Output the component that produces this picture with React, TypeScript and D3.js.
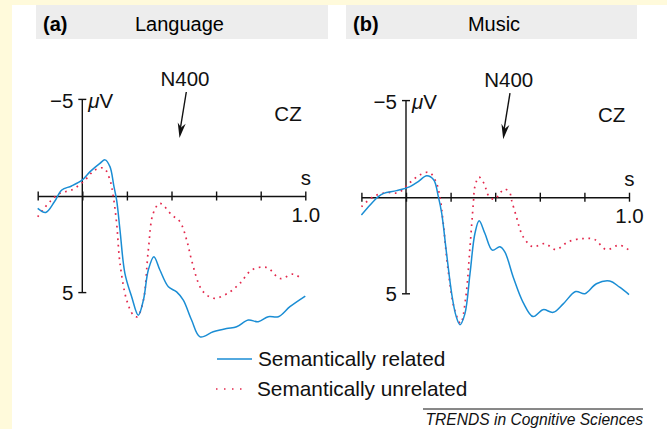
import * as d3 from "d3";
import { useEffect, useRef } from "react";

// ERP traces at electrode CZ, [time (s), amplitude (µV)], negative up
const langRelated: [number, number][] = [
  [-0.2, 0.64], [-0.164, 0.85], [-0.125, 0.3], [-0.092, -0.31], [-0.048, -0.52], [0, -0.83],
  [0.035, -1.26], [0.079, -1.69], [0.102, -1.87], [0.124, -1.52], [0.142, -0.48], [0.154, 0.21],
  [0.169, 1.76], [0.191, 4.0], [0.221, 5.2], [0.251, 6.17], [0.274, 5.39], [0.296, 3.83],
  [0.321, 3.14], [0.348, 3.83], [0.386, 4.7], [0.423, 4.96], [0.453, 5.39], [0.49, 6.42],
  [0.528, 7.29], [0.587, 7.03], [0.647, 6.86], [0.692, 6.77], [0.744, 6.42], [0.789, 6.51],
  [0.834, 6.25], [0.879, 6.25], [0.931, 5.73], [1.0, 5.18],
];
const langUnrelated: [number, number][] = [
  [-0.2, 1.07], [-0.145, 0.29], [-0.1, -0.14], [-0.048, -0.31], [0.005, -0.74], [0.057, -1.35],
  [0.097, -1.44], [0.124, -0.83], [0.139, 0.03], [0.154, 1.42], [0.169, 3.49], [0.199, 5.39],
  [0.229, 6.17], [0.247, 6.25], [0.274, 5.39], [0.296, 2.8], [0.318, 0.9], [0.348, 0.38],
  [0.401, 0.98], [0.438, 1.33], [0.468, 2.28], [0.49, 3.32], [0.528, 4.7], [0.558, 5.13],
  [0.595, 5.3], [0.662, 4.96], [0.707, 4.52], [0.76, 3.83], [0.827, 3.7], [0.887, 4.27],
  [0.946, 4.04], [0.984, 4.3],
];
const musicRelated: [number, number][] = [
  [-0.2, 0.92], [-0.161, 0.4], [-0.124, -0.03], [-0.1, -0.2], [-0.042, -0.34], [0.018, -0.55],
  [0.055, -0.81], [0.093, -1.11], [0.124, -0.9], [0.145, -0.03], [0.16, 0.83], [0.182, 2.92],
  [0.205, 5.0], [0.224, 6.13], [0.242, 6.6], [0.264, 6.04], [0.287, 3.96], [0.309, 1.88],
  [0.328, 1.22], [0.354, 1.88], [0.387, 2.74], [0.421, 2.57], [0.443, 2.83], [0.481, 4.14],
  [0.525, 5.44], [0.57, 6.18], [0.615, 5.82], [0.66, 5.96], [0.705, 5.52], [0.761, 4.88],
  [0.802, 5.0], [0.854, 4.48], [0.913, 4.34], [0.958, 4.66], [1.0, 5.04],
];
const musicUnrelated: [number, number][] = [
  [-0.2, 0.49], [-0.146, -0.03], [-0.087, -0.24], [-0.034, -0.24], [0.018, -0.76], [0.063, -1.16],
  [0.105, -1.28], [0.134, -0.81], [0.152, -0.03], [0.167, 1.35], [0.189, 3.79], [0.219, 5.87],
  [0.245, 6.53], [0.268, 5.18], [0.287, 2.57], [0.302, 0.31], [0.309, -0.55], [0.327, -1.04],
  [0.349, -0.73], [0.373, -0.03], [0.399, 0.1], [0.421, -0.21], [0.443, -0.42], [0.466, -0.21],
  [0.473, 0.14], [0.495, 1.01], [0.518, 1.88], [0.545, 2.36], [0.57, 2.57], [0.622, 2.4],
  [0.672, 2.71], [0.727, 2.31], [0.794, 2.14], [0.846, 2.19], [0.898, 2.71], [0.958, 2.48],
  [1.0, 2.74],
];

const timeTicks = [-0.2, 0, 0.2, 0.4, 0.6, 0.8, 1.0];
const ampTicks = [-5, 5];
const panelLabels = ["(a)", "(b)"];
const panelTitles = ["Language", "Music"];
const legendLabels = ["Semantically related", "Semantically unrelated"];

const BLUE = "#1a8dd4";
const RED = "#e3284c";
const FONT = "'Liberation Sans', Arial, sans-serif";

const width = 667;
const height = 429;

const panels = [
  { related: langRelated, unrelated: langUnrelated, dx: 0, dy: 0 },
  { related: musicRelated, unrelated: musicUnrelated, dx: 323.7, dy: 1.2 },
];

const App = () => {
  const svgRef = useRef<SVGSVGElement | null>(null);

  useEffect(() => {
    const svg = d3.select(svgRef.current);
    svg.selectAll("*").remove();

    // background: yellow frame strips, white page
    svg.append("rect").attr("width", width).attr("height", height).attr("fill", "#fffadb");
    svg.append("rect").attr("x", 12).attr("y", 5).attr("width", width - 12).attr("height", height - 5).attr("fill", "#ffffff");

    // grey title bars
    const bars = [{ x: 36, w: 292 }, { x: 346, w: 291 }];
    bars.forEach((b, i) => {
      svg.append("rect").attr("x", b.x).attr("y", 5).attr("width", b.w).attr("height", 34).attr("fill", "#ededed");
      svg.append("text").attr("x", b.x + 7).attr("y", 31).attr("font-family", FONT)
        .attr("font-size", 20).attr("font-weight", "bold").text(panelLabels[i]);
      svg.append("text").attr("x", i === 0 ? 179.5 : 494).attr("y", 31).attr("font-family", FONT)
        .attr("font-size", 20).attr("text-anchor", "middle").text(panelTitles[i]);
    });

    panels.forEach((p) => {
      const g = svg.append("g").attr("transform", `translate(${p.dx},${p.dy})`);
      const x = d3.scaleLinear().domain([-0.2, 1.0]).range([37.7, 305.3]);
      const y = d3.scaleLinear().domain([-5, 5]).range([99.4, 292.6]);

      // x axis with ticks crossing the line
      const xAxis = d3.axisBottom(x).tickValues(timeTicks).tickFormat(() => "").tickSize(4).tickSizeOuter(0);
      const xg = g.append("g").attr("transform", `translate(0,${y(0)})`).call(xAxis);
      xg.select(".domain").attr("stroke", "#111").attr("stroke-width", 1.4);
      xg.selectAll(".tick line").attr("y1", -4.5).attr("y2", 4.5).attr("stroke", "#111").attr("stroke-width", 1.4);

      // y axis from -5 to 5
      g.append("line").attr("x1", x(0)).attr("x2", x(0)).attr("y1", y(-5)).attr("y2", y(5))
        .attr("stroke", "#111").attr("stroke-width", 1.4);
      ampTicks.forEach((v) => {
        g.append("line").attr("x1", x(0) - 4).attr("x2", x(0) + 4).attr("y1", y(v)).attr("y2", y(v))
          .attr("stroke", "#111").attr("stroke-width", 1.4);
      });

      const txt = (tx: number, ty: number, s: string, anchor = "start") =>
        g.append("text").attr("x", tx).attr("y", ty).attr("font-family", FONT).attr("font-size", 20.5)
          .attr("text-anchor", anchor).attr("fill", "#111").text(s);

      txt(x(0) - 9, y(-5) + 8.5, "\u22125", "end");
      const uv = g.append("text").attr("x", x(0) + 6).attr("y", y(-5) + 8.5).attr("font-family", FONT)
        .attr("font-size", 20.5).attr("fill", "#111");
      uv.append("tspan").attr("font-style", "italic").text("\u03bc");
      uv.append("tspan").text("V");
      txt(x(0) - 9, y(5) + 7.5, "5", "end");
      txt(x(1.0) + 0.5, y(0) - 11, "s", "middle");
      txt(x(1.0) + 0.5, y(0) + 26, "1.0", "middle");
      txt(288, 121, "CZ", "middle");
      txt(185, 86, "N400", "middle");

      // N400 arrow
      const [ax1, ay1, ax2, ay2] = [186.3, 92, 179.5, 138];
      g.append("line").attr("x1", ax1).attr("y1", ay1).attr("x2", ax2 + 0.6).attr("y2", ay2 - 8)
        .attr("stroke", "#111").attr("stroke-width", 1.4);
      const ang = Math.atan2(ay2 - ay1, ax2 - ax1);
      const len = 15;
      const hw = 4;
      const bx = ax2 - len * Math.cos(ang);
      const by = ay2 - len * Math.sin(ang);
      const nx = -Math.sin(ang) * hw;
      const ny = Math.cos(ang) * hw;
      g.append("path")
        .attr("d", `M${ax2},${ay2}L${bx + nx},${by + ny}L${bx + (ax2 - bx) * 0.3},${by + (ay2 - by) * 0.3}L${bx - nx},${by - ny}Z`)
        .attr("fill", "#111");

      const line = d3.line<[number, number]>()
        .x((d) => x(d[0]))
        .y((d) => y(d[1]))
        .curve(d3.curveCatmullRom.alpha(0.5));

      g.append("path").datum(p.unrelated).attr("d", line).attr("fill", "none")
        .attr("stroke", RED).attr("stroke-width", 1.7).attr("stroke-dasharray", "1.7 4.6");
      g.append("path").datum(p.related).attr("d", line).attr("fill", "none")
        .attr("stroke", BLUE).attr("stroke-width", 1.5);
    });

    // legend
    const legend = svg.append("g");
    legend.append("line").attr("x1", 217).attr("x2", 252).attr("y1", 359).attr("y2", 359)
      .attr("stroke", BLUE).attr("stroke-width", 1.5);
    legend.append("line").attr("x1", 216).attr("x2", 244).attr("y1", 389).attr("y2", 389)
      .attr("stroke", RED).attr("stroke-width", 1.5).attr("stroke-dasharray", "1.5 6.5");
    legend.append("text").attr("x", 258).attr("y", 366).attr("font-family", FONT).attr("font-size", 20.8)
      .attr("fill", "#111").text(legendLabels[0]);
    legend.append("text").attr("x", 257).attr("y", 396).attr("font-family", FONT).attr("font-size", 20.8)
      .attr("fill", "#111").text(legendLabels[1]);

    // source line
    svg.append("line").attr("x1", 423).attr("x2", 643).attr("y1", 409).attr("y2", 409)
      .attr("stroke", "#111").attr("stroke-width", 1);
    svg.append("text").attr("x", 643).attr("y", 425).attr("font-family", FONT).attr("font-size", 15.6)
      .attr("font-style", "italic").attr("text-anchor", "end").attr("fill", "#111")
      .text("TRENDS in Cognitive Sciences");
  }, []);

  return (
    <svg ref={svgRef} width={width} height={height}
      style={{ position: "absolute", left: 0, top: 0, display: "block" }} />
  );
};

export default App;
